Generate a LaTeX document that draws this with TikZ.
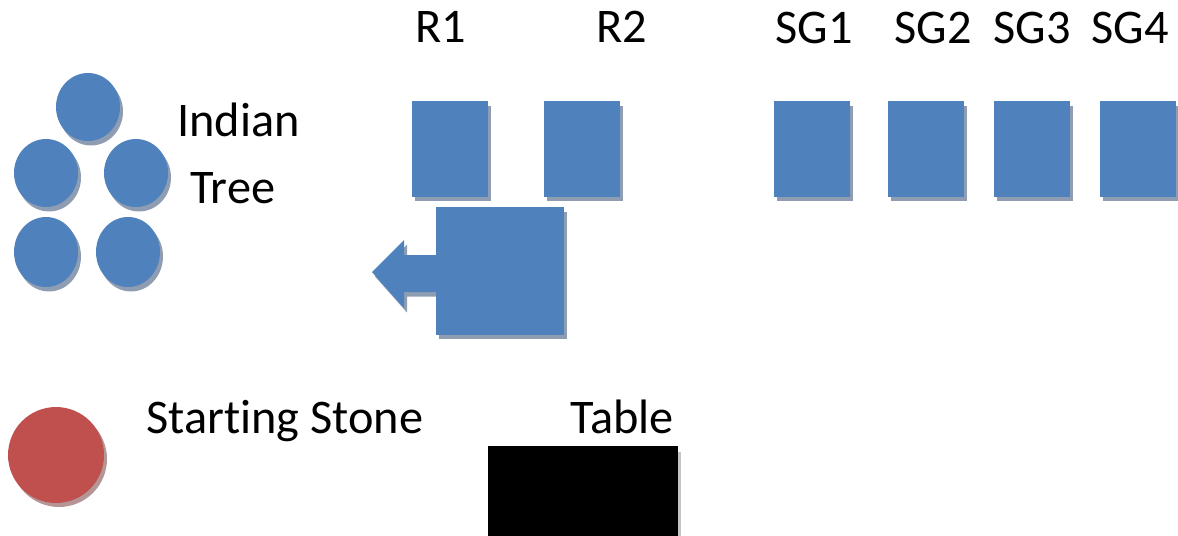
\documentclass[tikz,border=0pt]{standalone}
\usepackage{fontspec}
\setmainfont{Carlito}[Ligatures=NoCommon]
\usetikzlibrary{shapes.geometric,shadows}
\definecolor{blockblue}{HTML}{4F81BD}
\definecolor{blockshade}{HTML}{8E9DB2}
\definecolor{stonered}{HTML}{C0504D}
\definecolor{stoneshade}{HTML}{B59595}
\definecolor{tableshade}{HTML}{C4C4C4}
\begin{document}
\begin{tikzpicture}[x=0.02cm, y=-0.02cm,
        boxshadow/.style={drop shadow={shadow xshift=0.06cm,
          shadow yshift=-0.09cm, fill=blockshade, opacity=1}},
        blockbox/.style={rectangle, fill=blockblue, inner sep=0pt,
          minimum width=1.52cm, minimum height=1.92cm, boxshadow},
        treeball/.style={ellipse, fill=blockblue, inner sep=0pt,
          minimum width=1.28cm, minimum height=1.36cm, boxshadow},
        lab/.style={font=\fontsize{27.5}{32}\selectfont, inner sep=0pt,
          anchor=base west}
      ]
      \useasboundingbox (0,0) rectangle (1178,535);
      % indian tree
      \node[treeball] (t1) at (88,107) {};
      \node[treeball] (t2) at (46,173) {};
      \node[treeball] (t3) at (136,173) {};
      \node[treeball, minimum height=1.4cm] (t4) at (46,252) {};
      \node[treeball, minimum height=1.4cm] (t5) at (128,252) {};
      \node[lab] (indian) at (177,136) {Indian};
      \node[lab] (tree)   at (190,203) {Tree};
      % rows
      \node[blockbox] (r1) at (450,149) {};
      \node[blockbox] (r2) at (582,149) {};
      \node[lab] (r1lab) at (415,42) {R1};
      \node[lab] (r2lab) at (596,42) {R2};
      \foreach \x/\lx/\n in {812/775/1, 926/894/2, 1032/993/3, 1138/1091/4} {
        \node[blockbox] (sg\n) at (\x,149) {};
        \node[lab] (sg\n lab) at (\lx,43) {SG\n};
      }
      % big box with arrow
      \coordinate (hold) at (436,271);
      \fill[blockblue, boxshadow] (hold) ++(0,-16) -- ++(-32,0) -- ++(0,-15)
        -- ++(-32,32) -- ++(32,36) -- ++(0,-16) -- ++(32,0) -- cycle;
      \node[blockbox, minimum width=2.56cm, minimum height=2.56cm,
        anchor=west] (sq) at (hold) {};
      % starting stone and table
      \node[ellipse, fill=stonered, inner sep=0pt, minimum size=1.92cm,
        drop shadow={shadow xshift=0.06cm, shadow yshift=-0.08cm,
          fill=stoneshade, opacity=1}] (stone) at (56,455) {};
      \node[lab] (stonelab) at (146,433) {Starting Stone};
      \node[rectangle, fill=black, inner sep=0pt, minimum width=3.8cm,
        minimum height=2cm, drop shadow={shadow xshift=0.06cm,
          shadow yshift=-0.12cm, fill=tableshade, opacity=1}]
        (table) at (583,496) {};
      \node[lab] (tablelab) at (570,433) {Table};
    \end{tikzpicture}
\end{document}
